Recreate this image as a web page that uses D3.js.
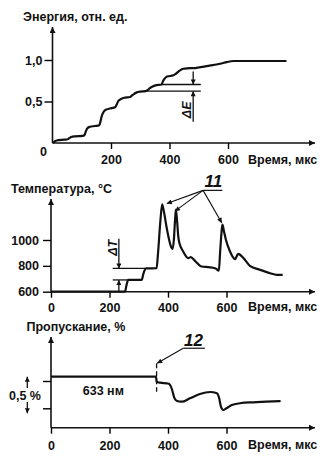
<!DOCTYPE html>
<html><head><meta charset="utf-8">
<script src="https://cdn.jsdelivr.net/npm/d3@7"></script>
<style>
html,body{margin:0;padding:0;background:#fff;}
svg text{font-family:"Liberation Sans",Arial,sans-serif;font-weight:bold;font-size:12.5px;fill:#111;}
</style></head><body>
<svg id="chart" width="327" height="460"></svg>
<script>
// Pulse energy, relative units
const energyTime  = [0, 14, 40, 52, 58, 64, 77, 103, 110, 114, 120, 128, 145, 160, 164, 168, 174, 182, 202, 214, 219, 224, 232, 245, 265, 271, 278, 288, 300, 318, 326, 333, 342, 352, 373, 376, 382, 392, 413, 420, 427, 436, 447, 460, 481, 533, 573, 596, 618, 800];
const energyValue = [0, 0.03, 0.04, 0.045, 0.06, 0.072, 0.08, 0.085, 0.10, 0.14, 0.18, 0.195, 0.205, 0.215, 0.26, 0.32, 0.37, 0.40, 0.42, 0.43, 0.46, 0.50, 0.525, 0.545, 0.555, 0.57, 0.59, 0.61, 0.62, 0.625, 0.64, 0.66, 0.68, 0.695, 0.705, 0.73, 0.77, 0.80, 0.815, 0.83, 0.85, 0.875, 0.895, 0.9, 0.902, 0.93, 0.955, 0.975, 0.988, 0.988];
const energyTicks = [0.5, 1.0];
const energyTickLabels = ["0,5", "1,0"];
const energySteps = [0.625, 0.705];        // ΔE levels
const energyStepStart = [318, 373];

// Surface temperature, °C
const tempTime  = [0, 253, 258, 264, 310, 316, 325, 361, 366, 374, 380, 386, 395, 405, 412, 416, 420, 424, 427, 431, 435, 439, 452, 469, 478, 492, 515, 538, 561, 574, 578, 583, 586, 592, 598, 612, 629, 640, 658, 680, 715, 749, 772, 792];
const tempValue = [600, 600, 650, 691, 691, 740, 780, 782, 900, 1150, 1275, 1220, 1100, 990, 940, 932, 1000, 1150, 1236, 1150, 1030, 976, 911, 860, 867, 839, 795, 790, 782, 763, 900, 1060, 1119, 1060, 1002, 911, 852, 893, 860, 800, 769, 743, 730, 730];
const tempTicks = [600, 800, 1000];
const tempSteps = [691, 780];              // ΔT levels
const tempStepEnd = [264, 325];
const peakTime  = [396, 424, 584];
const peakValue = [1282, 1223, 1132];

// Transmission at 633 nm, change in %
const transTime  = [0, 359, 361, 373, 400, 407, 414, 421, 429, 447, 475, 509, 544, 567, 575, 581, 589, 600, 618, 646, 692, 737, 785];
const transValue = [0.079, 0.079, -0.013, -0.031, -0.045, -0.07, -0.16, -0.30, -0.361, -0.379, -0.317, -0.238, -0.201, -0.225, -0.317, -0.471, -0.531, -0.5, -0.44, -0.408, -0.39, -0.379, -0.366];
const transTicks = [0, -0.5];

const timeTicks = [0, 200, 400, 600];
const timeLabel = "Время, мкс";

const svg = d3.select("#chart");
const defs = svg.append("defs");
function marker(id, w, h) {
  defs.append("marker").attr("id", id)
    .attr("viewBox", "0 0 10 10").attr("refX", 10).attr("refY", 5)
    .attr("markerUnits", "userSpaceOnUse")
    .attr("markerWidth", w).attr("markerHeight", h)
    .attr("orient", "auto")
    .append("path").attr("d", "M0,0L10,5L0,10z").attr("fill", "#111");
}
marker("axisHead", 9, 6);
marker("head", 7, 5);

const XEND = 315;
const lineColor = "#111";

function axes(g, x, y, yTop, x0v, y0v, opt) {
  // x axis line with arrow
  g.append("line").attr("x1", x(0)).attr("x2", XEND)
    .attr("y1", y(y0v)).attr("y2", y(y0v))
    .attr("stroke", lineColor).attr("stroke-width", 1.6).attr("marker-end", "url(#axisHead)");
  g.append("line").attr("x1", x(0)).attr("x2", x(0))
    .attr("y1", y(y0v)).attr("y2", yTop)
    .attr("stroke", lineColor).attr("stroke-width", 1.6).attr("marker-end", "url(#axisHead)");

  const ax = g.append("g").attr("transform", `translate(0,${y(y0v)})`)
    .call(d3.axisBottom(x).tickValues(opt.xTicks).tickSize(6).tickPadding(opt.xPad).tickSizeOuter(0));
  ax.select(".domain").remove();
  ax.selectAll("line").attr("stroke-width", 1.4);

  const ay = g.append("g").attr("transform", `translate(${x(0)},0)`)
    .call(d3.axisLeft(y).tickValues(opt.yTicks).tickSize(8).tickPadding(opt.yPad)
      .tickFormat(opt.yFormat).tickSizeOuter(0));
  ay.select(".domain").remove();
  ay.selectAll("line").attr("stroke-width", 1.4);

  g.append("text").attr("x", 248).attr("y", y(y0v) + opt.labelDy).text(timeLabel);
}

const curve = (x, y) => d3.line().x(d => x(d[0])).y(d => y(d[1])).curve(d3.curveMonotoneX);

// ---------- Energy ----------
{
  const g = svg.append("g");
  const x = d3.scaleLinear().domain([0, 800]).range([52.5, 52.5 + 234]);
  const y = d3.scaleLinear().domain([0, 1]).range([143, 60]);
  g.append("text").attr("x", 23).attr("y", 20.7).text("Энергия, отн. ед.");
  axes(g, x, y, 27, 0, 0, {
    xTicks: [200, 400, 600], xPad: 6, yTicks: energyTicks, yPad: 2,
    yFormat: (d, i) => energyTickLabels[i], labelDy: 21
  });
  g.append("text").attr("x", 43.5).attr("y", 155.5).attr("text-anchor", "middle").text("0");

  const pts = energyTime.map((t, i) => [t, energyValue[i]]);
  g.append("path").attr("d", curve(x, y)(pts)).attr("fill", "none")
    .attr("stroke", lineColor).attr("stroke-width", 2.2).attr("stroke-linejoin", "round");

  const mx = 481, endX = 507;
  energySteps.forEach((v, i) => {
    g.append("line").attr("x1", x(energyStepStart[i])).attr("x2", x(endX))
      .attr("y1", y(v)).attr("y2", y(v)).attr("stroke", lineColor).attr("stroke-width", 1.3);
  });
  g.append("line").attr("x1", x(mx)).attr("x2", x(mx)).attr("y1", y(0.86)).attr("y2", y(energySteps[1]))
    .attr("stroke", lineColor).attr("stroke-width", 1.3).attr("marker-end", "url(#head)");
  g.append("line").attr("x1", x(mx)).attr("x2", x(mx)).attr("y1", y(0.257)).attr("y2", y(energySteps[0]))
    .attr("stroke", lineColor).attr("stroke-width", 1.3).attr("marker-end", "url(#head)");
  g.append("text").attr("transform", `translate(${x(mx) - 2},${y(0.4)}) rotate(-90)`)
    .attr("text-anchor", "middle").attr("font-style", "italic").text("ΔE");
}

// ---------- Temperature ----------
{
  const g = svg.append("g");
  const x = d3.scaleLinear().domain([0, 800]).range([51, 51 + 234]);
  const y = d3.scaleLinear().domain([600, 1000]).range([291.7, 240]);
  g.append("text").attr("x", 11).attr("y", 193).text("Температура, °C");
  axes(g, x, y, 199, 0, 600, {
    xTicks: timeTicks, xPad: 5, yTicks: tempTicks, yPad: 4,
    yFormat: d3.format("d"), labelDy: 19.5
  });

  const pts = tempTime.map((t, i) => [t, tempValue[i]]);
  g.append("path").attr("d", curve(x, y)(pts)).attr("fill", "none")
    .attr("stroke", lineColor).attr("stroke-width", 2.2).attr("stroke-linejoin", "round");

  const mx = 232, startX = 211;
  tempSteps.forEach((v, i) => {
    g.append("line").attr("x1", x(startX)).attr("x2", x(tempStepEnd[i]))
      .attr("y1", y(v)).attr("y2", y(v)).attr("stroke", lineColor).attr("stroke-width", 1.3);
  });
  g.append("line").attr("x1", x(mx)).attr("x2", x(mx)).attr("y1", y(1010)).attr("y2", y(tempSteps[1]))
    .attr("stroke", lineColor).attr("stroke-width", 1.3).attr("marker-end", "url(#head)");
  g.append("line").attr("x1", x(mx)).attr("x2", x(mx)).attr("y1", y(600)).attr("y2", y(tempSteps[0]))
    .attr("stroke", lineColor).attr("stroke-width", 1.3).attr("marker-end", "url(#head)");
  g.append("text").attr("transform", `translate(${x(mx) - 2},${y(940)}) rotate(-90)`)
    .attr("text-anchor", "middle").attr("font-style", "italic").text("ΔT");

  // peak callout
  const ox = 520, oy = 1384;
  g.append("line").attr("x1", x(ox)).attr("x2", x(586)).attr("y1", y(oy)).attr("y2", y(oy))
    .attr("stroke", lineColor).attr("stroke-width", 1.2);
  g.append("text").attr("x", x(555)).attr("y", y(oy) - 3).attr("text-anchor", "middle")
    .attr("font-style", "italic").style("font-size", "17px").text("11");
  peakTime.forEach((t, i) => {
    g.append("line").attr("x1", x(ox)).attr("y1", y(oy)).attr("x2", x(t)).attr("y2", y(peakValue[i]))
      .attr("stroke", lineColor).attr("stroke-width", 1.1).attr("marker-end", "url(#head)");
  });
}

// ---------- Transmission ----------
{
  const g = svg.append("g");
  const x = d3.scaleLinear().domain([0, 800]).range([51, 51 + 234]);
  const y = d3.scaleLinear().domain([-0.5, 0]).range([408.3, 381]);
  g.append("text").attr("x", 26.5).attr("y", 331).text("Пропускание, %");
  axes(g, x, y, 337, 0, -0.855, {
    xTicks: timeTicks, xPad: 7, yTicks: transTicks, yPad: 4,
    yFormat: () => "", labelDy: 21.8
  });

  const pts = transTime.map((t, i) => [t, transValue[i]]);
  g.append("path").attr("d", curve(x, y)(pts)).attr("fill", "none")
    .attr("stroke", lineColor).attr("stroke-width", 2.2).attr("stroke-linejoin", "round");

  // onset marker
  g.append("line").attr("x1", x(361)).attr("x2", x(361)).attr("y1", y(0.324)).attr("y2", y(-0.196))
    .attr("stroke", lineColor).attr("stroke-width", 1.3).attr("stroke-dasharray", "5,3");
  g.append("text").attr("x", x(179)).attr("y", y(-0.165) + 4.5).attr("text-anchor", "middle").text("633 нм");

  const ox = 452, oy = 0.6;
  g.append("line").attr("x1", x(ox)).attr("x2", x(526)).attr("y1", y(oy)).attr("y2", y(oy))
    .attr("stroke", lineColor).attr("stroke-width", 1.2);
  g.append("text").attr("x", x(487)).attr("y", y(oy) - 2).attr("text-anchor", "middle")
    .attr("font-style", "italic").style("font-size", "17px").text("12");
  g.append("line").attr("x1", x(ox)).attr("y1", y(oy)).attr("x2", x(363)).attr("y2", y(0.324))
    .attr("stroke", lineColor).attr("stroke-width", 1.1).attr("marker-end", "url(#head)");

  // 0,5 % scale bar
  const bx = 27.3;
  g.append("line").attr("x1", bx).attr("x2", bx).attr("y1", 388).attr("y2", y(0.079))
    .attr("stroke", lineColor).attr("stroke-width", 1.3).attr("marker-end", "url(#head)");
  g.append("line").attr("x1", bx).attr("x2", bx).attr("y1", 402).attr("y2", y(-0.59))
    .attr("stroke", lineColor).attr("stroke-width", 1.3).attr("marker-end", "url(#head)");
  g.append("text").attr("x", 25).attr("y", 399.5).attr("text-anchor", "middle").text("0,5 %");
}
</script>
</body></html>
